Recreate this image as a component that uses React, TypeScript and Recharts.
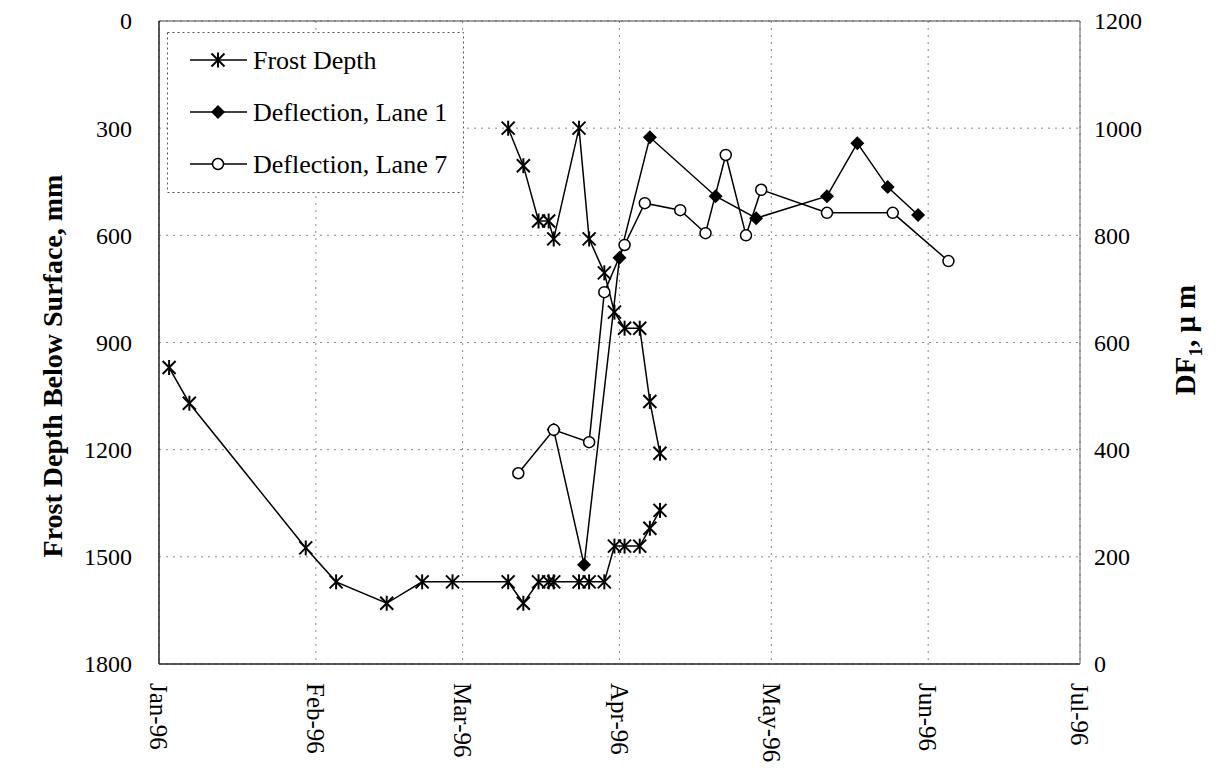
import React from "react";
import {
  ComposedChart,
  Line,
  XAxis,
  YAxis,
  CartesianGrid,
  ReferenceLine,
  Legend,
} from "recharts";

// ---- data (dates in 1996) ----
const frostLowerDates = [
  "1996-01-03", "1996-01-07", "1996-01-30", "1996-02-05", "1996-02-15", "1996-02-22",
  "1996-02-28", "1996-03-10", "1996-03-13", "1996-03-16", "1996-03-18", "1996-03-19",
  "1996-03-24", "1996-03-26", "1996-03-29", "1996-03-31", "1996-04-02", "1996-04-05",
  "1996-04-07", "1996-04-09",
];
const frostLowerDepth = [
  970, 1070, 1475, 1570, 1630, 1570, 1570, 1570, 1630, 1570, 1570, 1570, 1570, 1570,
  1570, 1470, 1470, 1470, 1420, 1370,
];

const frostUpperDates = [
  "1996-03-10", "1996-03-13", "1996-03-16", "1996-03-18", "1996-03-19", "1996-03-24",
  "1996-03-26", "1996-03-29", "1996-03-31", "1996-04-02", "1996-04-05", "1996-04-07",
  "1996-04-09",
];
const frostUpperDepth = [300, 405, 560, 560, 610, 300, 610, 705, 815, 860, 860, 1065, 1210];

const lane1Dates = [
  "1996-03-19", "1996-03-25", "1996-04-01", "1996-04-07", "1996-04-20", "1996-04-28",
  "1996-05-12", "1996-05-18", "1996-05-24", "1996-05-30",
];
const lane1Deflection = [437, 185, 758, 983, 873, 832, 873, 972, 890, 838];

const lane7Dates = [
  "1996-03-12", "1996-03-19", "1996-03-26", "1996-03-29", "1996-04-02", "1996-04-06",
  "1996-04-13", "1996-04-18", "1996-04-22", "1996-04-26", "1996-04-29", "1996-05-12",
  "1996-05-25", "1996-06-05",
];
const lane7Deflection = [356, 437, 414, 694, 782, 860, 847, 804, 950, 800, 885, 842, 842, 752];

const monthTickDates = [
  "1996-01-01", "1996-02-01", "1996-03-01", "1996-04-01", "1996-05-01", "1996-06-01", "1996-07-01",
];
const monthTickLabels = ["Jan-96", "Feb-96", "Mar-96", "Apr-96", "May-96", "Jun-96", "Jul-96"];
const depthTicks = [0, 300, 600, 900, 1200, 1500, 1800];
const deflTicks = [0, 200, 400, 600, 800, 1000, 1200];

// ---- helpers ----
const BASE = Date.UTC(1996, 0, 1);
const toDay = (s: string) => {
  const [y, m, d] = s.split("-").map(Number);
  return (Date.UTC(y, m - 1, d) - BASE) / 86400000;
};
const build = (dates: string[], vals: number[]) =>
  dates.map((d, i) => ({ day: toDay(d), v: vals[i] }));

const frostLower = build(frostLowerDates, frostLowerDepth);
const frostUpper = build(frostUpperDates, frostUpperDepth);
const lane1 = build(lane1Dates, lane1Deflection);
const lane7 = build(lane7Dates, lane7Deflection);
const monthTicks = monthTickDates.map(toDay);

const FONT = "'Liberation Serif', 'Times New Roman', serif";

// ---- markers ----
const Asterisk = (props: any) => {
  const { cx, cy } = props;
  if (cx == null || cy == null) return null;
  const s = 6.5;
  return (
    <g stroke="#000" strokeWidth={2} fill="none">
      <line x1={cx} y1={cy - s - 1} x2={cx} y2={cy + s + 1} />
      <line x1={cx - s} y1={cy - s} x2={cx + s} y2={cy + s} />
      <line x1={cx + s} y1={cy - s} x2={cx - s} y2={cy + s} />
    </g>
  );
};
const Diamond = (props: any) => {
  const { cx, cy } = props;
  if (cx == null || cy == null) return null;
  const s = 7;
  return <path d={`M${cx},${cy - s}L${cx + s},${cy}L${cx},${cy + s}L${cx - s},${cy}Z`} fill="#000" />;
};
const Circle = (props: any) => {
  const { cx, cy } = props;
  if (cx == null || cy == null) return null;
  return <circle cx={cx} cy={cy} r={5.5} fill="#fff" stroke="#000" strokeWidth={1.5} />;
};

// ---- ticks ----
const XTick = (props: any) => {
  const { x, y, payload } = props;
  const i = monthTicks.indexOf(payload.value);
  return (
    <text
      x={x}
      y={y}
      transform={`rotate(90, ${x}, ${y})`}
      dy="0.35em"
      textAnchor="start"
      fontFamily={FONT}
      fontSize={25}
      fill="#000"
    >
      {monthTickLabels[i]}
    </text>
  );
};
const LeftTick = (props: any) => {
  const { x, y, payload } = props;
  return (
    <text x={x} y={y} dy="0.35em" textAnchor="end" fontFamily={FONT} fontSize={24} fill="#000">
      {payload.value}
    </text>
  );
};
const RightTick = (props: any) => {
  const { x, y, payload } = props;
  return (
    <text x={x} y={y} dy="0.35em" textAnchor="start" fontFamily={FONT} fontSize={24} fill="#000">
      {payload.value}
    </text>
  );
};

const LeftTitle = () => (
  <text
    x={44}
    y={358}
    transform="rotate(-90, 44, 358)"
    textAnchor="middle"
    dy="0.35em"
    fontFamily={FONT}
    fontWeight="bold"
    fontSize={28}
    fill="#000"
  >
    Frost Depth Below Surface, mm
  </text>
);
const RightTitle = () => (
  <text
    x={1177}
    y={332}
    transform="rotate(-90, 1177, 332)"
    textAnchor="middle"
    dy="0.35em"
    fontFamily={FONT}
    fontWeight="bold"
    fontSize={29}
    fill="#000"
  >
    DF
    <tspan fontSize={19} dy="7">1</tspan>
    <tspan dy="-7">, μ m</tspan>
  </text>
);

const legendItems = [
  { label: "Frost Depth", Marker: Asterisk },
  { label: "Deflection, Lane 1", Marker: Diamond },
  { label: "Deflection, Lane 7", Marker: Circle },
];

const LegendBox = () => (
  <svg width={297} height={161} style={{ display: "block" }}>
    <rect x={0.5} y={0.5} width={296} height={160} fill="#fff" stroke="#555" strokeDasharray="2 3" />
    {legendItems.map((it, i) => {
      const y = 28 + i * 52;
      return (
        <g key={it.label}>
          <line x1={23} y1={y} x2={80} y2={y} stroke="#000" strokeWidth={1.5} />
          <it.Marker cx={51} cy={y} />
          <text x={86} y={y} dy="0.35em" fontFamily={FONT} fontSize={26} fill="#000">
            {it.label}
          </text>
        </g>
      );
    })}
  </svg>
);

export default function App() {
  return (
    <ComposedChart
      width={1211}
      height={773}
      margin={{ top: 13, right: 0, bottom: 0, left: 0 }}
      style={{ fontFamily: FONT }}
    >
      <CartesianGrid
        xAxisId="x"
        yAxisId="left"
        stroke="#888"
        strokeDasharray="2 5"
      />
      <XAxis
        xAxisId="x"
        dataKey="day"
        type="number"
        domain={[0, 182]}
        ticks={monthTicks}
        interval={0}
        height={117}
        tickSize={0}
        tickMargin={19}
        tick={<XTick />}
        axisLine={{ stroke: "#222", strokeWidth: 1.5 }}
        allowDataOverflow
      />
      <YAxis
        yAxisId="left"
        orientation="left"
        type="number"
        domain={[0, 1800]}
        ticks={depthTicks}
        reversed
        width={151}
        tickSize={0}
        tickMargin={27}
        tick={<LeftTick />}
        axisLine={{ stroke: "#222", strokeWidth: 1.5 }}
        label={<LeftTitle />}
      />
      <YAxis
        yAxisId="right"
        orientation="right"
        type="number"
        domain={[0, 1200]}
        ticks={deflTicks}
        width={139}
        tickSize={0}
        tickMargin={14}
        tick={<RightTick />}
        axisLine={{ stroke: "#666", strokeWidth: 1 }}
        label={<RightTitle />}
      />
      <ReferenceLine xAxisId="x" yAxisId="left" y={0} stroke="#444" strokeWidth={1} />
      <Legend
        layout="vertical"
        verticalAlign="middle"
        align="center"
        wrapperStyle={{ position: "absolute", left: 159, top: 24, width: 297, height: 161 }}
        content={() => <LegendBox />}
      />
      <Line
        xAxisId="x"
        yAxisId="left"
        data={frostLower}
        dataKey="v"
        name="Frost Depth"
        stroke="#000"
        strokeWidth={1.5}
        dot={<Asterisk />}
        activeDot={false}
        isAnimationActive={false}
      />
      <Line
        xAxisId="x"
        yAxisId="left"
        data={frostUpper}
        dataKey="v"
        name="Frost Depth (top)"
        stroke="#000"
        strokeWidth={1.5}
        dot={<Asterisk />}
        activeDot={false}
        legendType="none"
        isAnimationActive={false}
      />
      <Line
        xAxisId="x"
        yAxisId="right"
        data={lane1}
        dataKey="v"
        name="Deflection, Lane 1"
        stroke="#000"
        strokeWidth={1.5}
        dot={<Diamond />}
        activeDot={false}
        isAnimationActive={false}
      />
      <Line
        xAxisId="x"
        yAxisId="right"
        data={lane7}
        dataKey="v"
        name="Deflection, Lane 7"
        stroke="#000"
        strokeWidth={1.5}
        dot={<Circle />}
        activeDot={false}
        isAnimationActive={false}
      />
    </ComposedChart>
  );
}
